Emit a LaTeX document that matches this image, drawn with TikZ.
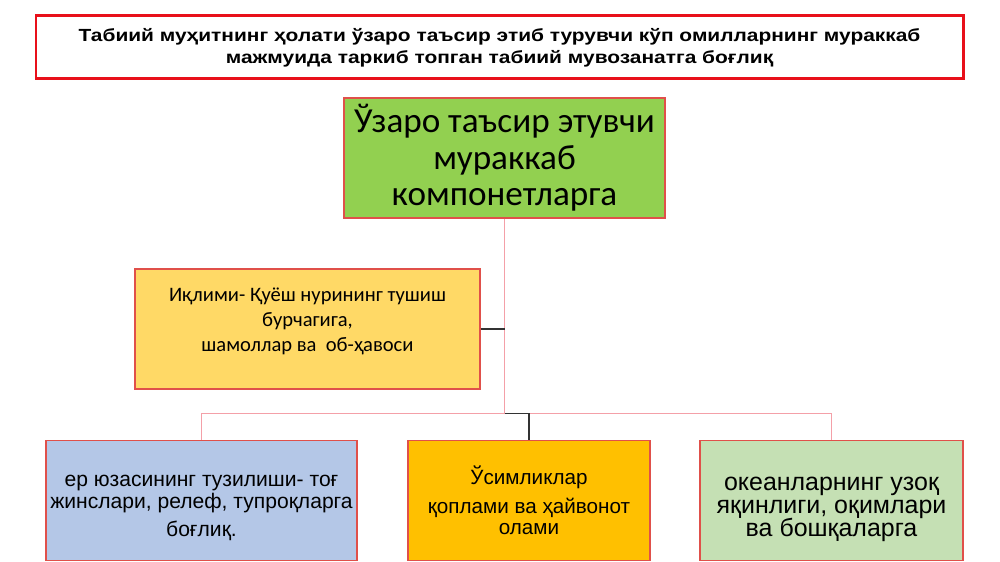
\documentclass[tikz,border=0pt]{standalone}
\usepackage{fontspec}
\setmainfont{Liberation Sans}
\newfontfamily\carlito{Carlito}
\newfontfamily\widebold[FakeStretch=1.19]{Liberation Sans Bold}
\usetikzlibrary{positioning,calc}
\definecolor{boxred}{HTML}{E8101A}
\definecolor{edgered}{HTML}{E0504A}
\definecolor{linkpink}{HTML}{F4A0A8}
\definecolor{leafgreen}{HTML}{92D050}
\definecolor{sunyellow}{HTML}{FFD966}
\definecolor{skyblue}{HTML}{B4C7E7}
\definecolor{amber}{HTML}{FFC000}
\definecolor{palegreen}{HTML}{C5E0B4}
\lineskiplimit=-20pt

\begin{document}
\begin{tikzpicture}[
    every node/.style={inner sep=2pt},
    titlebox/.style={
      rectangle, draw=boxred, line width=1.7pt,
      minimum width=18.54cm, minimum height=1.26cm,
      align=center, font=\widebold\fontsize{10}{12.5}\selectfont
    },
    part/.style={
      rectangle, draw=edgered, line width=0.6pt,
      minimum height=2.39cm, align=center
    },
    tree/.style={draw=linkpink, line width=0.8pt},
    joint/.style={draw=black!80, line width=0.8pt},
  ]
  \useasboundingbox (0,0) rectangle (20,-11.24);

  % Nodes
  \node[titlebox] (title) at (9.99,-0.95)
    {Табиий муҳитнинг ҳолати ўзаро таъсир этиб турувчи кўп омилларнинг мураккаб\\
     мажмуида таркиб топган табиий мувозанатга боғлиқ};
  \node[part, fill=leafgreen, minimum width=6.42cm, minimum height=2.4cm,
        font=\carlito\fontsize{20}{20.8}\selectfont] (core) at (10.09,-3.16)
    {Ўзаро таъсир этувчи\\ мураккаб\\ компонетларга};
  \node[part, fill=sunyellow, minimum width=6.9cm, minimum height=2.4cm,
        font=\carlito\fontsize{11.7}{14.2}\selectfont] (climate) at (6.15,-6.58)
    {Иқлими- Қуёш нурининг тушиш\\ бурчагига,\\ шамоллар ва\ \ об-ҳавоси\\[-4pt]};
  \node[part, fill=skyblue, minimum width=6.22cm,
        font=\fontsize{12}{12.5}\selectfont] (relief) at (4.03,-10.01)
    {\rule{0pt}{15pt}ер юзасининг тузилиши- тоғ\\ жинслари, релеф, тупроқларга\\[3pt] боғлиқ.};
  \node[part, fill=amber, minimum width=4.84cm,
        font=\fontsize{11.75}{12.3}\selectfont] (flora) at (10.58,-10.01)
    {Ўсимликлар\\[4pt] қоплами ва ҳайвонот\\ олами};
  \node[part, fill=palegreen, minimum width=5.26cm,
        font=\fontsize{14.2}{13.1}\selectfont] (ocean) at (16.63,-10.01)
    {\rule{0pt}{18pt}океанларнинг узоқ\\ яқинлиги, оқимлари\\ ва бошқаларга};

  % Connectors
  \coordinate (bus) at ($(core.south)+(0,-3.9)$);
  \draw[tree] (core.south) -- (bus);
  \draw[joint] (climate.east) -- (climate.east -| core.south);
  \draw[tree] (bus) -| (relief.north);
  \draw[tree] (bus) -| (ocean.north);
  \draw[joint] (bus) -| (flora.north);

\end{tikzpicture}
\end{document}
